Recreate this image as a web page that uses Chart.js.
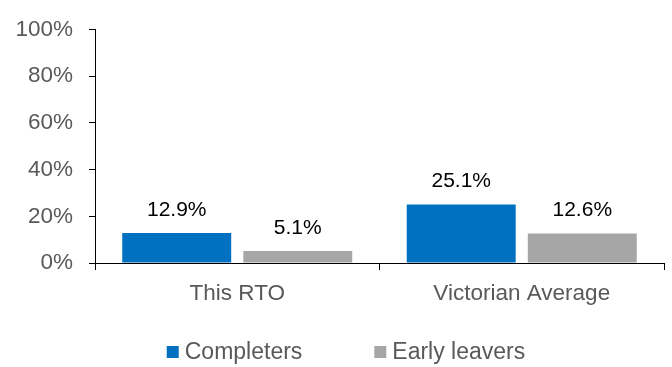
<!DOCTYPE html>
<html>
<head>
<meta charset="utf-8">
<script src="https://cdn.jsdelivr.net/npm/chart.js@4"></script>
<style>
  html, body { margin: 0; padding: 0; background: #fff; }
  #wrap { width: 672px; height: 367px; }
</style>
</head>
<body>
<div id="wrap"><canvas id="myChart" width="672" height="367"></canvas></div>
<script>
// data
var categorias = ['This RTO', 'Victorian Average'];
var completers = [12.9, 25.1];
var earlyLeavers = [5.1, 12.6];
var seriesNames = ['Completers', 'Early leavers'];
var yTicks = [0, 20, 40, 60, 80, 100];

var azul = '#0070C0';
var cinza = '#A6A6A6';
var fonte = '"Liberation Sans", Arial, sans-serif';

// valores em cima das barras
const rotulos = {
    id: 'rotulos',
    afterDatasetsDraw(chart) {
        const ctx = chart.ctx;
        ctx.save();
        ctx.font = '21px ' + fonte;
        ctx.fillStyle = '#000';
        ctx.textAlign = 'center';
        ctx.textBaseline = 'middle';
        chart.data.datasets.forEach((ds, i) => {
            chart.getDatasetMeta(i).data.forEach((bar, j) => {
                ctx.fillText(ds.data[j].toFixed(1) + '%', bar.x, bar.y - 23);
            });
        });
        ctx.restore();
    }
};

// legenda embaixo
const legenda = {
    id: 'legenda',
    afterDraw(chart) {
        const ctx = chart.ctx;
        ctx.save();
        ctx.font = '23px ' + fonte;
        ctx.textBaseline = 'middle';
        var box = 12, gap = 6, espaco = 72, y = 352;
        var larguras = chart.data.datasets.map(ds => ctx.measureText(ds.label).width);
        var total = 0;
        larguras.forEach((w, i) => { total += box + gap + w + (i > 0 ? espaco : 0); });
        var x = 346 - total / 2;
        chart.data.datasets.forEach((ds, i) => {
            ctx.fillStyle = ds.backgroundColor;
            ctx.fillRect(x, y - box / 2, box, box);
            ctx.fillStyle = '#595959';
            ctx.fillText(ds.label, x + box + gap, y + 1);
            x += box + gap + larguras[i] + espaco;
        });
        ctx.restore();
    }
};

const data = {
    labels: categorias,
    datasets: [{
        label: seriesNames[0],
        backgroundColor: azul,
        data: completers
    }, {
        label: seriesNames[1],
        backgroundColor: cinza,
        data: earlyLeavers
    }]
};

const config = {
    type: 'bar',
    data: data,
    options: {
        responsive: false,
        animation: false,
        events: [],
        layout: { padding: { top: 26, right: 8, bottom: 54, left: 0 } },
        datasets: {
            bar: { categoryPercentage: 0.851, barPercentage: 0.90 }
        },
        plugins: {
            legend: { display: false },
            tooltip: { enabled: false }
        },
        scales: {
            x: {
                afterFit: (s) => { s.height = 50; },
                border: { color: '#000', width: 1 },
                grid: { display: true, drawOnChartArea: false, offset: true, tickLength: 7, color: '#000' },
                ticks: { color: '#595959', font: { family: fonte, size: 22.5 }, padding: 10 }
            },
            y: {
                min: 0,
                max: 100,
                afterFit: (s) => { s.width = 95; },
                afterBuildTicks: (s) => { s.ticks = yTicks.map(v => ({ value: v })); },
                border: { color: '#000', width: 1 },
                grid: { display: true, drawOnChartArea: false, tickLength: 6, color: '#000' },
                ticks: {
                    color: '#595959',
                    font: { family: fonte, size: 22.5 },
                    padding: 16,
                    callback: (v) => v + '%'
                }
            }
        }
    },
    plugins: [rotulos, legenda]
};

const myChart = new Chart(document.getElementById('myChart'), config);
</script>
</body>
</html>
